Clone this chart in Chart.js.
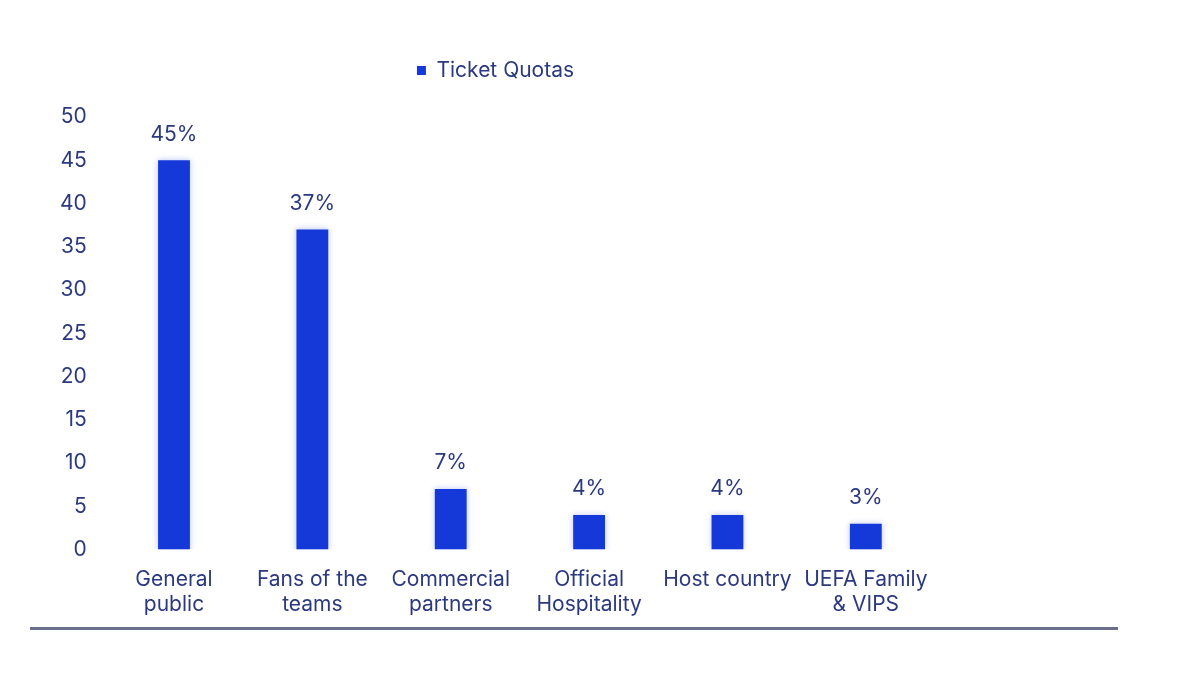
<!DOCTYPE html>
<html>
<head>
<meta charset="utf-8">
<title>Ticket Quotas</title>
<script src="https://cdn.jsdelivr.net/npm/chart.js@4"></script>
<style>
  html, body { margin: 0; padding: 0; background: #fff; }
  #wrap { position: absolute; left: 0; top: 0; width: 1000px; height: 646px; }
  #rule { position: absolute; left: 30px; top: 627px; width: 1088px; height: 3px; background: #6b6f8e; }
</style>
</head>
<body>
<div id="wrap"><canvas id="quotaChart"></canvas></div>
<div id="rule"></div>
<script>
// Ticket quota shares by group
const categories = [
  ['General', 'public'],
  ['Fans of the', 'teams'],
  ['Commercial', 'partners'],
  ['Official', 'Hospitality'],
  'Host country',
  ['UEFA Family', '& VIPS']
];
const quotaValues = [45, 37, 7, 4, 4, 3];
const yTicks = [0, 5, 10, 15, 20, 25, 30, 35, 40, 45, 50];

const barBlue = '#1539d8';
const textBlue = '#2b3980';

// percent label above every bar
const valueLabels = {
  id: 'valueLabels',
  afterDraw(chart) {
    const ctx = chart.ctx;
    const meta = chart.getDatasetMeta(0);
    ctx.save();
    ctx.font = '21px Inter';
    ctx.fillStyle = textBlue;
    ctx.textAlign = 'center';
    ctx.textBaseline = 'middle';
    meta.data.forEach((bar, i) => {
      ctx.fillText(quotaValues[i] + '%', bar.x, bar.y - 26);
    });
    ctx.restore();
  }
};

// soft glow round the bars
const barGlow = {
  id: 'barGlow',
  beforeDatasetsDraw(chart) {
    chart.ctx.save();
    chart.ctx.shadowColor = 'rgba(21, 57, 216, 0.3)';
    chart.ctx.shadowBlur = 6;
  },
  afterDatasetsDraw(chart) {
    chart.ctx.restore();
  }
};

// extra room under the legend, and nudge it a little to the right
const legendGap = {
  id: 'legendGap',
  beforeInit(chart) {
    const fit = chart.legend.fit;
    chart.legend.fit = function () {
      fit.bind(chart.legend)();
      this.height += 26;
    };
  },
  afterLayout(chart) {
    chart.legend.left += 7;
    chart.legend.right += 7;
  }
};

const ctx = document.getElementById('quotaChart').getContext('2d');
new Chart(ctx, {
  type: 'bar',
  data: {
    labels: categories,
    datasets: [{
      label: 'Ticket Quotas',
      data: quotaValues,
      backgroundColor: barBlue,
      borderWidth: 0,
      barPercentage: 0.46,
      categoryPercentage: 0.5
    }]
  },
  options: {
    responsive: true,
    maintainAspectRatio: false,
    animation: false,
    layout: { padding: { left: 42, right: 65, top: 50, bottom: 12 } },
    plugins: {
      legend: {
        position: 'top',
        labels: {
          color: textBlue,
          font: { family: 'Inter', size: 21 },
          boxWidth: 9,
          boxHeight: 9,
          padding: 10
        }
      },
      tooltip: { enabled: false }
    },
    scales: {
      x: {
        grid: { display: false, drawTicks: false },
        border: { display: false },
        ticks: {
          color: textBlue,
          font: { family: 'Inter', size: 21 },
          padding: 17,
          maxRotation: 0,
          autoSkip: false
        }
      },
      y: {
        min: 0,
        max: 50,
        afterBuildTicks(scale) {
          scale.ticks = yTicks.map(v => ({ value: v }));
        },
        grid: { display: false, drawTicks: false },
        border: { display: false },
        ticks: {
          color: textBlue,
          font: { family: 'Inter', size: 21 },
          padding: 18
        }
      }
    }
  },
  plugins: [barGlow, valueLabels, legendGap]
});
</script>
</body>
</html>
